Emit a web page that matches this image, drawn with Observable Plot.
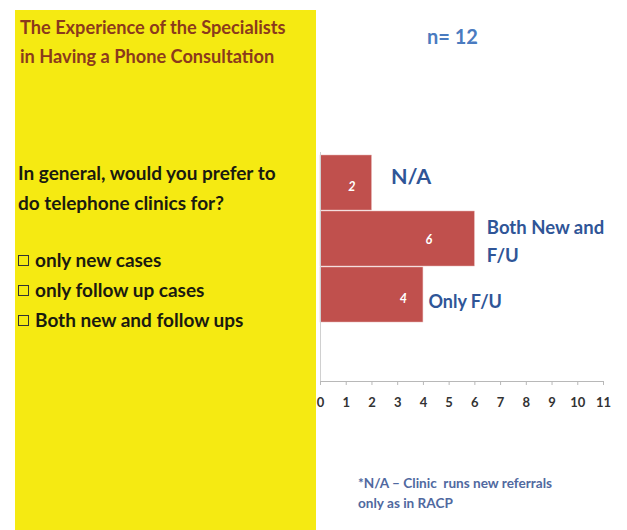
<!DOCTYPE html>
<html><head><meta charset="utf-8">
<script src="https://cdn.jsdelivr.net/npm/d3@7"></script>
<script src="https://cdn.jsdelivr.net/npm/@observablehq/plot@0.6"></script>
<style>
body{margin:0;background:#fff;font-family:Lato,"Open Sans",sans-serif;}
#wrap{position:relative;width:627px;height:530px;overflow:hidden;}
#panel{position:absolute;left:15px;top:10px;width:301px;height:520px;background:#f5ea12;}
.t{position:absolute;white-space:nowrap;font-weight:bold;}
#chart{position:absolute;left:0;top:0;}
</style></head><body>
<div id="wrap">
<div id="panel"></div>
<div class="t" style="left:20px;top:13px;font-size:18.2px;line-height:29px;color:#8b3a1c;">The Experience of the Specialists<br>in Having a Phone Consultation</div>
<div class="t" style="left:18px;top:158px;font-size:19px;line-height:30px;color:#1a1a10;">In general, would you prefer to<br>do telephone clinics for?</div>
<div class="t" id="opts" style="left:18px;top:245px;font-size:19px;line-height:30px;color:#1a1a10;"></div>
<div class="t" style="left:427px;top:24px;font-size:20px;color:#4a7bc0;">n= 12</div>
<div class="t" style="left:358px;top:473px;font-size:13.6px;line-height:20px;color:#5069a0;">*N/A – Clinic&nbsp; runs new referrals<br>only as in RACP</div>
<div id="chart"></div>
</div>
<script>
const categories = ["N/A", "Both New and F/U", "Only F/U", "Only New"];
const values = [2, 6, 4, 0];
const tickValues = [0,1,2,3,4,5,6,7,8,9,10,11];
const options = ["only new cases", "only follow up cases", "Both new and follow ups"];

document.getElementById("opts").innerHTML = options.map(o =>
  `<span style="display:inline-block;width:9px;height:9px;border:1px solid #333;margin-right:6px;vertical-align:1px;"></span>${o}`).join("<br>");

const data = categories.map((c, i) => ({category: c, value: values[i]}));
const shown = data.filter(d => d.value > 0);
const font = "Lato, 'Open Sans', sans-serif";
const blue = "#2f5597";

const chart = Plot.plot({
  width: 627, height: 530,
  marginLeft: 320, marginRight: 24, marginTop: 152, marginBottom: 149,
  style: {background: "transparent", overflow: "visible", fontFamily: font},
  x: {domain: [0, 11]},
  y: {domain: categories, padding: 0.025, axis: null},
  marks: [
    Plot.barX(data, {x: "value", y: "category", fill: "#c0504d", stroke: "#e6b4b2", strokeWidth: 0.5}),
    Plot.ruleX([0], {stroke: "#d0d0d0"}),
    Plot.frame({anchor: "bottom", stroke: "#b8b8b8"}),
    Plot.axisX({ticks: tickValues, tickSize: 4, tickPadding: 12, fontSize: 13, fontWeight: "bold", stroke: "#b8b8b8", color: "#333", label: null, tickFormat: d3.format("d")}),
    Plot.text(shown.filter(d => d.value !== 6), {x: "value", y: "category", text: d => String(d.value), dx: -20, dy: 4, fill: "white", fontSize: 12.5, fontWeight: "bold", fontStyle: "italic"}),
    Plot.text(shown.filter(d => d.value === 6), {x: "value", y: "category", text: d => String(d.value), dx: -46, dy: 1, fill: "white", fontSize: 12.5, fontWeight: "bold", fontStyle: "italic"}),
    Plot.text(shown.filter(d => d.category === "N/A"), {x: "value", y: "category", text: "category", dx: 19, dy: -6, textAnchor: "start", fill: blue, fontSize: 21.5, fontWeight: "bold"}),
    Plot.text(shown.filter(d => d.category === "Both New and F/U"), {x: "value", y: "category", text: d => "Both New and\nF/U", dx: 12, dy: 0, lineHeight: 1.5, textAnchor: "start", fill: blue, fontSize: 18.5, fontWeight: "bold"}),
    Plot.text(shown.filter(d => d.category === "Only F/U"), {x: "value", y: "category", text: "category", dx: 5, dy: 7, textAnchor: "start", fill: blue, fontSize: 18, fontWeight: "bold"})
  ]
});
document.getElementById("chart").appendChild(chart);
</script>
</body></html>
